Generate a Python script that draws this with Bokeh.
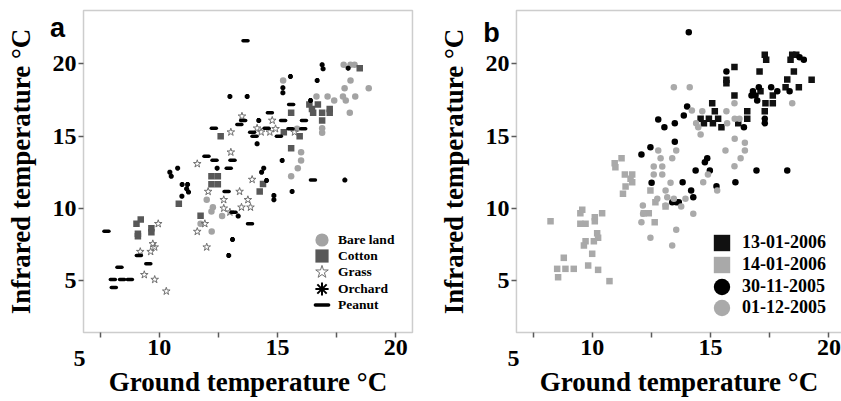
from bokeh.plotting import figure
from bokeh.models import Range1d, FixedTicker, Legend, LegendItem, Label, BoxAnnotation
from bokeh.layouts import row
from bokeh.embed import file_html
from bokeh.resources import INLINE

# ---------------- Panel a: land cover ----------------
bare_x = [17.80, 18.09, 18.26, 15.24, 18.09, 17.84, 18.86, 16.65, 17.12, 17.77, 18.29, 17.40, 17.89, 18.06,
          16.89, 16.89, 15.83, 16.00, 16.00, 15.86, 15.58, 12.01, 12.27, 12.21, 12.66, 11.75, 12.22]
bare_y = [19.93, 19.93, 19.93, 18.84, 18.84, 18.31, 18.31, 17.74, 17.74, 17.74, 17.74, 17.46, 17.46, 16.61,
          15.54, 15.22, 15.50, 13.88, 13.31, 12.78, 12.22, 10.59, 10.07, 9.77, 9.46, 8.93, 8.39]

cotton_x = [18.48, 16.35, 16.71, 16.46, 16.51, 16.89, 17.21, 17.21, 15.58, 16.89, 15.27, 15.94, 15.58, 12.60,
            12.21, 12.48, 12.21, 12.48, 14.39, 14.25, 10.83, 11.75, 9.04, 9.22, 9.10, 9.10, 9.67, 9.67]
cotton_y = [19.70, 17.18, 17.18, 16.88, 16.61, 16.61, 16.88, 16.61, 16.61, 16.08, 15.27, 14.99, 14.16, 14.99,
            12.22, 12.22, 11.67, 11.67, 11.69, 11.16, 10.31, 9.49, 8.93, 9.22, 8.24, 8.07, 8.62, 8.35]

grass_x = [13.50, 14.78, 13.03, 14.14, 14.31, 14.68, 14.92, 15.72, 13.03, 11.61, 13.93, 12.07, 13.40, 12.73,
           13.75, 12.73, 13.48, 13.86, 12.99, 11.93, 11.61, 12.01, 9.96, 9.73, 9.81, 9.64, 9.20, 9.37, 9.81, 10.30]
grass_y = [16.37, 16.08, 15.27, 15.54, 15.27, 15.27, 15.50, 15.27, 13.88, 13.08, 11.99, 11.16, 11.16, 10.59,
           10.59, 10.00, 10.07, 10.07, 9.73, 8.93, 8.39, 7.31, 8.93, 7.54, 7.31, 7.00, 7.00, 5.40, 5.07, 4.26]

orchard_x = [16.89, 16.93, 17.99, 15.55, 16.68, 15.23, 15.23, 12.99, 13.72, 16.40, 14.21, 14.14, 15.20, 10.78,
             12.45, 14.42, 14.33, 10.45, 10.51, 14.54, 17.85, 10.97, 11.20, 11.16, 11.24, 10.96, 15.62, 14.85,
             14.85, 13.34, 13.10, 12.94]
orchard_y = [19.93, 19.65, 19.70, 19.12, 18.84, 18.34, 17.99, 17.74, 17.74, 17.46, 16.08, 14.46, 13.31, 12.78,
             12.78, 12.78, 12.50, 12.50, 12.22, 11.92, 11.95, 11.65, 11.65, 11.35, 11.12, 10.84, 11.16, 10.88,
             10.59, 9.46, 7.84, 6.73]

peanut_x = [13.65, 15.58, 14.68, 13.55, 13.39, 15.24, 16.12, 12.31, 14.54, 15.55, 16.09, 13.93, 14.03, 15.06,
            12.00, 12.34, 13.10, 12.94, 16.50, 12.85, 13.14, 13.84, 7.77, 9.14, 9.54, 8.32, 8.04, 8.43, 8.76, 8.08]
peanut_y = [21.60, 17.18, 16.61, 16.08, 15.80, 16.08, 16.08, 15.54, 15.54, 15.50, 15.50, 15.27, 14.99, 14.99,
            13.61, 13.33, 13.33, 12.78, 11.95, 11.16, 9.73, 8.93, 8.42, 6.73, 6.16, 5.92, 5.07, 5.07, 5.07, 4.52]

# ---------------- Panel b: dates ----------------
d130106_x = [17.29, 17.35, 18.45, 18.62, 18.38, 16.01, 17.07, 18.52, 15.67, 15.67, 19.27, 18.24, 18.17, 18.73,
             17.11, 16.01, 17.63, 17.63, 17.32, 15.07, 15.18, 16.55, 17.29, 14.58, 14.93, 15.32, 16.55, 14.72,
             15.10, 16.17, 15.46]
d130106_y = [20.62, 20.28, 20.62, 20.62, 20.28, 19.77, 19.47, 19.47, 18.89, 18.66, 18.90, 18.91, 18.38, 18.38,
             18.10, 17.81, 17.81, 17.27, 17.27, 17.27, 16.72, 16.72, 16.72, 16.19, 16.19, 16.19, 16.19, 15.89,
             15.89, 15.89, 15.61]

d140106_x = [11.24, 10.95, 10.98, 11.38, 11.69, 11.62, 11.69, 11.41, 11.30, 12.46, 12.67, 13.10, 12.18, 12.39,
             12.64, 8.24, 9.50, 9.58, 9.50, 9.72, 10.11, 10.11, 10.42, 10.21, 10.25, 10.07, 9.72, 9.65, 10.00,
             8.80, 8.52, 8.87, 9.22, 8.56, 9.83, 10.25, 10.73]
d140106_y = [13.47, 13.12, 12.84, 12.34, 12.34, 12.04, 11.81, 11.51, 11.00, 11.23, 10.42, 10.12, 9.66, 9.66,
             9.04, 9.11, 9.66, 9.90, 8.93, 8.93, 9.38, 9.11, 9.66, 8.28, 7.96, 7.72, 7.72, 7.43, 6.85,
             6.57, 5.81, 5.81, 5.81, 5.23, 6.04, 5.74, 4.96]

d301105_x = [14.08, 18.94, 18.76, 15.67, 17.56, 17.82, 18.34, 16.79, 16.90, 16.97, 17.04, 16.73, 17.29, 17.29,
             14.01, 13.87, 16.41, 12.79, 13.05, 13.49, 13.49, 12.46, 12.08, 14.86, 14.76, 14.37, 14.97, 16.94,
             18.24, 12.51, 13.82, 16.05, 15.25, 14.18, 14.27, 13.38, 13.55, 13.66]
d301105_y = [22.19, 20.28, 20.46, 19.47, 18.38, 18.10, 18.10, 18.10, 17.81, 17.46, 18.38, 17.81, 16.19, 15.89,
             17.05, 16.42, 15.61, 16.15, 15.61, 15.89, 14.60, 14.23, 13.72, 13.47, 13.19, 12.62, 12.62, 12.62,
             12.62, 11.76, 11.81, 11.81, 11.53, 11.23, 10.77, 10.42, 10.42, 10.42]

d011205_x = [13.45, 14.12, 18.45, 16.01, 14.65, 15.67, 14.21, 14.39, 14.48, 15.70, 16.02, 16.22, 14.58, 16.02,
             16.45, 16.45, 15.63, 16.27, 12.79, 13.55, 12.89, 13.38, 12.60, 12.96, 12.60, 12.96, 13.31, 14.69,
             14.89, 16.01, 15.28, 13.10, 12.14, 12.75, 13.17, 13.10, 13.45, 13.94, 12.08, 12.15, 13.55, 12.46,
             13.38, 13.76, 14.27]
d011205_y = [18.38, 18.38, 17.27, 17.27, 16.72, 16.72, 16.77, 15.89, 15.61, 15.89, 16.19, 16.19, 15.11, 14.81,
             14.53, 14.00, 14.00, 13.47, 14.00, 14.00, 13.47, 13.47, 12.89, 12.89, 12.34, 12.34, 11.76, 11.81,
             12.34, 12.91, 11.23, 11.23, 10.19, 10.66, 10.77, 10.19, 10.66, 10.66, 9.04, 9.62, 8.51, 7.96,
             7.43, 10.12, 9.62]

# ---------------- axes ----------------
x_ticks = [7.5, 10, 12.5, 15, 17.5, 20]
x_tick_overrides = {7.5: "", 12.5: "", 17.5: ""}
y_ticks = [5, 10, 15, 20]
x_extra_label = "5"
x_title = "Ground temperature \u00b0C"
y_title = "Infrared temperature \u00b0C"

SERIF = "Liberation Serif"
SANS = "Liberation Sans"
AXC = "#5a5a5a"

Y_LO, Y_HI = 1.405, 23.69      # visible box (data extent shown)
X_LO = 6.80


def make_fig(width, x_view, x_hi, extra_x, tag, tag_xy):
    # the canvas is one big frame; the boxed plot area is drawn inside it
    p = figure(width=width, height=401, x_range=Range1d(*x_view), y_range=Range1d(-3.37, 24.38),
               output_backend="svg", toolbar_location=None,
               min_border_left=0, min_border_right=0, min_border_top=0, min_border_bottom=0,
               x_axis_label=x_title, y_axis_label=y_title)
    p.outline_line_color = None
    p.grid.visible = False
    p.background_fill_color = "white"
    p.border_fill_color = "white"
    p.add_layout(BoxAnnotation(left=X_LO, right=x_hi, bottom=Y_LO, top=Y_HI, fill_alpha=0,
                               line_color=AXC, line_width=1.5, level="underlay"))
    for ax in (p.xaxis[0], p.yaxis[0]):
        ax.axis_line_color = None
        ax.major_tick_line_color = AXC
        ax.major_tick_line_width = 1.5
        ax.major_tick_in = 0
        ax.major_tick_out = 5
        ax.minor_tick_line_color = None
        ax.major_label_text_font = SERIF
        ax.major_label_text_font_style = "bold"
        ax.major_label_text_font_size = "24px"
        ax.major_label_text_color = "black"
        ax.axis_label_text_font = SERIF
        ax.axis_label_text_font_style = "bold"
        ax.axis_label_text_font_size = "27px"
        ax.axis_label_text_color = "black"
    xa, ya = p.xaxis[0], p.yaxis[0]
    xa.fixed_location = Y_LO
    xa.bounds = (X_LO, x_hi)
    xa.ticker = FixedTicker(ticks=x_ticks)
    xa.major_label_overrides = x_tick_overrides
    xa.major_label_standoff = 3
    xa.axis_label_standoff = 8
    ya.fixed_location = X_LO
    ya.bounds = (Y_LO, Y_HI)
    ya.ticker = FixedTicker(ticks=y_ticks)
    ya.major_label_standoff = 2
    ya.axis_label_standoff = 14
    p.add_layout(Label(x=extra_x, y=-0.36, text=x_extra_label, text_align="center", text_baseline="alphabetic",
                       text_font=SERIF, text_font_style="bold", text_font_size="24px", text_color="black"))
    p.add_layout(Label(x=tag_xy[0], y=tag_xy[1], text=tag, text_align="center", text_baseline="alphabetic",
                       text_font=SANS, text_font_style="bold", text_font_size="27px", text_color="black"))
    return p


def add_legend_rows(p, renderers, labels, x_off, bottoms, gw, gh, font_size):
    for r, lab, b in zip(renderers, labels, bottoms):
        p.add_layout(Legend(items=[LegendItem(label=lab, renderers=[r])], location=(x_off, b),
                            glyph_width=gw, glyph_height=gh, label_standoff=0,
                            padding=0, margin=0, border_line_color=None, background_fill_alpha=0,
                            label_text_font=SERIF, label_text_font_style="bold",
                            label_text_font_size=font_size, label_text_color="black"))


# ---------- panel a ----------
pa = make_fig(430, (3.290, 21.472), 20.71, 6.63, "a", (5.70, 22.51))
r_bare = pa.scatter(bare_x, bare_y, marker="circle", size=6.5, fill_color="#a3a3a3", line_color=None)
r_cot = pa.scatter(cotton_x, cotton_y, marker="square", size=6.5, fill_color="#585858", line_color=None)
r_gr = pa.scatter(grass_x, grass_y, marker="star", size=8, fill_color=None, line_color="#707070", line_width=1)
r_or = pa.scatter(orchard_x, orchard_y, marker="asterisk", size=5, line_color="black", line_width=2)
r_pe = pa.scatter(peanut_x, peanut_y, marker="dash", size=5, line_color="black", line_width=3.5, line_cap="round")
labels_a = ["Bare land", "Cotton", "Grass", "Orchard", "Peanut"]
add_legend_rows(pa, [r_bare, r_cot, r_gr, r_or, r_pe], labels_a, 305, [143, 127, 111, 94, 78], 33, 37, "13.5px")

# ---------- panel b ----------
pb = make_fig(411, (3.169, 20.532), 20.75, 6.675, "b", (5.75, 22.10))
r1 = pb.scatter(d130106_x, d130106_y, marker="square", size=6.5, fill_color="#111111", line_color=None)
r2 = pb.scatter(d140106_x, d140106_y, marker="square", size=6.5, fill_color="#a9a9a9", line_color=None)
r3 = pb.scatter(d301105_x, d301105_y, marker="circle", size=6.5, fill_color="#000000", line_color=None)
r4 = pb.scatter(d011205_x, d011205_y, marker="circle", size=6.5, fill_color="#aaaaaa", line_color=None)
labels_b = ["13-01-2006", "14-01-2006", "30-11-2005", "01-12-2005"]
add_legend_rows(pb, [r1, r2, r3, r4], labels_b, 271, [136, 114, 92, 71], 41, 45, "18px")

layout = row(pa, pb)
open("out.html", "w").write(file_html(layout, INLINE))
